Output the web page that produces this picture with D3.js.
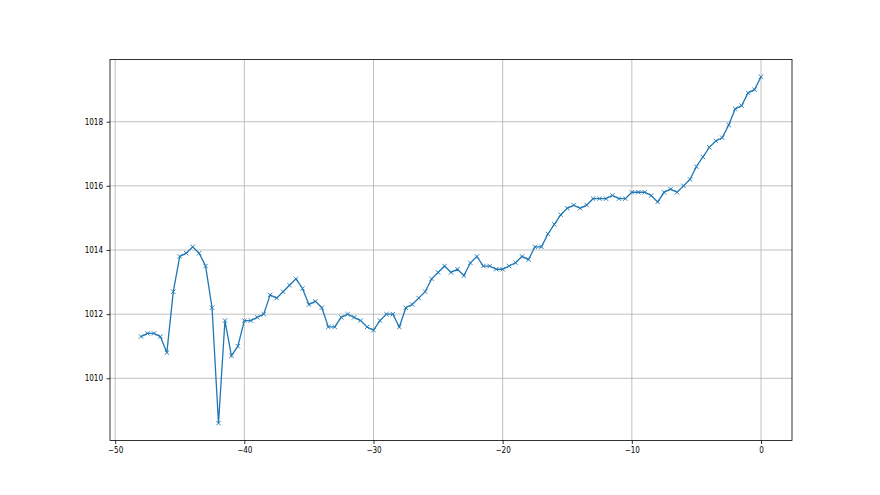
<!DOCTYPE html>
<html lang="en">
<head>
  <meta charset="utf-8">
  <title>Pressure</title>
  <style>
    body { margin: 0; background: #fff; }
    #chart text {
      font-family: "DejaVu Sans Condensed", "DejaVu Sans", sans-serif;
      font-size: 8px;
      fill: #000;
    }
  </style>
</head>
<body>
  <div id="chart"></div>
  <script src="https://d3js.org/d3.v7.min.js"></script>
  <script>
    // x positions: -48 .. 0 in half steps
    var xs = d3.range(-48, 0.001, 0.5);
    var pressure = [
      1011.3, 1011.4, 1011.4, 1011.3, 1010.8, 1012.7, 1013.8, 1013.9, 1014.1, 1013.9,
      1013.5, 1012.2, 1008.6, 1011.8, 1010.7, 1011.0, 1011.8, 1011.8, 1011.9, 1012.0,
      1012.6, 1012.5, 1012.7, 1012.9, 1013.1, 1012.8, 1012.3, 1012.4, 1012.2, 1011.6,
      1011.6, 1011.9, 1012.0, 1011.9, 1011.8, 1011.6, 1011.5, 1011.8, 1012.0, 1012.0,
      1011.6, 1012.2, 1012.3, 1012.5, 1012.7, 1013.1, 1013.3, 1013.5, 1013.3, 1013.4,
      1013.2, 1013.6, 1013.8, 1013.5, 1013.5, 1013.4, 1013.4, 1013.5, 1013.6, 1013.8,
      1013.7, 1014.1, 1014.1, 1014.5, 1014.8, 1015.1, 1015.3, 1015.4, 1015.3, 1015.4,
      1015.6, 1015.6, 1015.6, 1015.7, 1015.6, 1015.6, 1015.8, 1015.8, 1015.8, 1015.7,
      1015.5, 1015.8, 1015.9, 1015.8, 1016.0, 1016.2, 1016.6, 1016.9, 1017.2, 1017.4,
      1017.5, 1017.9, 1018.4, 1018.5, 1018.9, 1019.0, 1019.4
    ];
    var xTicks = [-50, -40, -30, -20, -10, 0];
    var yTicks = [1010, 1012, 1014, 1016, 1018];

    var data = xs.map(function (x, i) { return { x: x, y: pressure[i] }; });

    var W = 880, H = 495;
    var margin = { top: 59.5, right: 88, bottom: 54.5, left: 110 },
      width = W - margin.left - margin.right,
      height = H - margin.top - margin.bottom;

    var svg = d3.select("#chart")
      .append("svg")
      .attr("width", W)
      .attr("height", H)
      .append("g")
      .attr("transform", "translate(" + margin.left + "," + margin.top + ")");

    // matplotlib-style 5% margins
    var xmin = d3.min(xs), xmax = d3.max(xs), xpad = (xmax - xmin) * 0.05;
    var ymin = d3.min(pressure), ymax = d3.max(pressure), ypad = (ymax - ymin) * 0.05;

    var x = d3.scaleLinear()
      .domain([xmin - xpad, xmax + xpad])
      .range([0, width]);
    var y = d3.scaleLinear()
      .domain([ymin - ypad, ymax + ypad])
      .range([height, 0]);

    // grid
    svg.append("g")
      .selectAll("line.vg")
      .data(xTicks)
      .enter()
      .append("line")
      .attr("x1", function (d) { return x(d); })
      .attr("x2", function (d) { return x(d); })
      .attr("y1", 0)
      .attr("y2", height)
      .attr("stroke", "#b0b0b0")
      .attr("stroke-width", 0.8);
    svg.append("g")
      .selectAll("line.hg")
      .data(yTicks)
      .enter()
      .append("line")
      .attr("x1", 0)
      .attr("x2", width)
      .attr("y1", function (d) { return y(d); })
      .attr("y2", function (d) { return y(d); })
      .attr("stroke", "#b0b0b0")
      .attr("stroke-width", 0.8);

    // axes
    var xAxis = svg.append("g")
      .attr("transform", "translate(0," + height + ")")
      .call(d3.axisBottom(x).tickValues(xTicks).tickSize(3.5).tickPadding(3.5).tickFormat(d3.format("d")));
    var yAxis = svg.append("g")
      .call(d3.axisLeft(y).tickValues(yTicks).tickSize(3.5).tickPadding(3.5).tickFormat(d3.format("d")));
    [xAxis, yAxis].forEach(function (a) {
      a.select(".domain").remove();
      a.selectAll(".tick line").attr("stroke", "#000").attr("stroke-width", 0.8);
    });

    // line
    svg.append("path")
      .datum(data)
      .attr("fill", "none")
      .attr("stroke", "#1f77b4")
      .attr("stroke-width", 1.3)
      .attr("d", d3.line()
        .x(function (d) { return x(d.x); })
        .y(function (d) { return y(d.y); }));

    // x markers
    var s = 2.2;
    svg.append("g")
      .selectAll("path.mk")
      .data(data)
      .enter()
      .append("path")
      .attr("d", function (d) {
        var cx = x(d.x), cy = y(d.y);
        return "M" + (cx - s) + "," + (cy - s) + "L" + (cx + s) + "," + (cy + s) +
          "M" + (cx - s) + "," + (cy + s) + "L" + (cx + s) + "," + (cy - s);
      })
      .attr("stroke", "#1f77b4")
      .attr("stroke-width", 0.9)
      .attr("fill", "none");

    // frame
    svg.append("rect")
      .attr("width", width)
      .attr("height", height)
      .attr("fill", "none")
      .attr("stroke", "#000")
      .attr("stroke-width", 0.8);
  </script>
</body>
</html>
